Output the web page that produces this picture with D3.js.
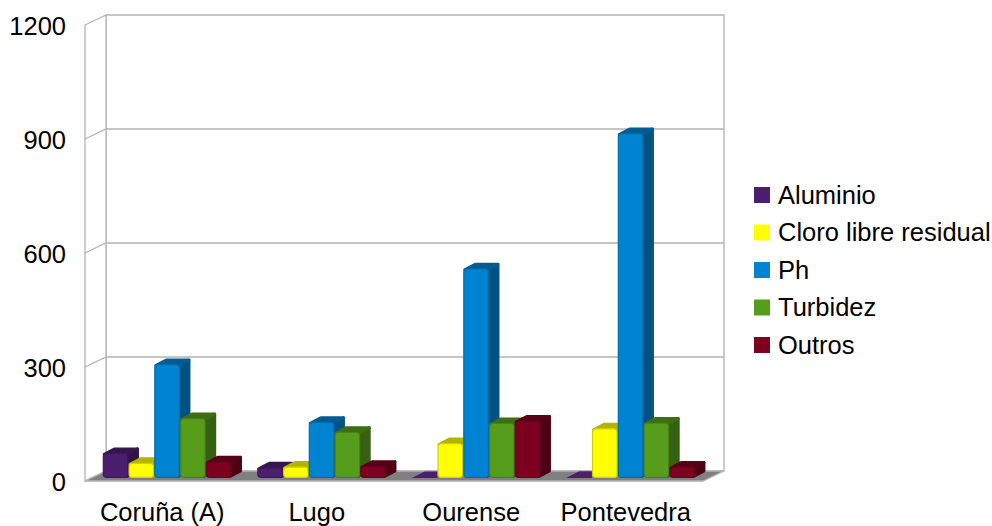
<!DOCTYPE html>
<html>
<head>
<meta charset="utf-8">
<script src="https://cdn.jsdelivr.net/npm/d3@7"></script>
<style>
html,body{margin:0;padding:0;background:#fff}
svg{display:block}
text{font-family:"Liberation Sans",Arial,sans-serif;fill:#000}
</style>
</head>
<body>
<svg id="chart" width="992" height="526"></svg>
<script>
const provinces = ["Coruña (A)", "Lugo", "Ourense", "Pontevedra"];
const seriesNames = ["Aluminio", "Cloro libre residual", "Ph", "Turbidez", "Outros"];
const seriesColors = ["#4b1f6f", "#ffff00", "#0084d1", "#579d1c", "#7e0021"];
const aluminio = [66, 28, 1, 2];
const cloro = [40, 30, 92, 131];
const ph = [300, 148, 552, 908];
const turbidez = [158, 122, 145, 146];
const outros = [44, 32, 151, 30];
const yTicks = [0, 300, 600, 900, 1200];

const allSeries = [aluminio, cloro, ph, turbidez, outros];
const labelFont = '"Liberation Sans",Arial,sans-serif';
const labelSize = "25.5px";

const svg = d3.select("#chart");

// Oblique box: the front floor edge and the offset of the back wall from it.
const frontLeft = 85, frontRight = 703, frontBase = 481;
const depthX = 21, depthY = 10;
const barOffsetX = 4.83, barOffsetY = 3;
const barThickX = 10.5, barThickY = 5.5;
const cornerInset = 1.5;

const x = d3.scaleBand().domain(provinces).range([frontLeft, frontRight]);
const xSeries = d3.scaleBand().domain(d3.range(seriesNames.length))
  .range([0, x.bandwidth()]).paddingOuter(0.5).paddingInner(0);
const y = d3.scaleLinear().domain([0, 1200]).range([frontBase, frontBase - 456]);

const wallColor = "#b3b3b3";
const poly = pts => "M" + pts.map(p => p.join(",")).join("L") + "Z";
const shade = (c, k) => d3.rgb(c.r * k, c.g * k, c.b * k).formatHex();

// Back wall and side wall
svg.append("path")
  .attr("d", poly([[frontLeft + depthX, y(1200) - depthY], [frontRight + depthX, y(1200) - depthY],
                   [frontRight + depthX, y(0) - depthY], [frontLeft + depthX, y(0) - depthY]]))
  .attr("fill", "#fff").attr("stroke", wallColor).attr("stroke-width", 1.3);
svg.append("path")
  .attr("d", poly([[frontLeft, y(1200)], [frontLeft + depthX, y(1200) - depthY],
                   [frontLeft + depthX, y(0) - depthY], [frontLeft, y(0)]]))
  .attr("fill", "#fff").attr("stroke", wallColor).attr("stroke-width", 1.3);

// Gridlines folded over both walls
svg.append("g").selectAll("path").data(yTicks.slice(1, -1)).join("path")
  .attr("d", t => `M${frontLeft},${y(t)}L${frontLeft + depthX},${y(t) - depthY}L${frontRight + depthX},${y(t) - depthY}`)
  .attr("fill", "none").attr("stroke", wallColor).attr("stroke-width", 1.3);

// Floor
svg.append("path")
  .attr("d", poly([[frontLeft, y(0)], [frontLeft + depthX, y(0) - depthY],
                   [frontRight + depthX, y(0) - depthY], [frontRight, y(0)]]))
  .attr("fill", "#808080").attr("stroke", wallColor).attr("stroke-width", 1.3);

// Bars, painted left to right so each front face covers its neighbour's side
const barsLayer = svg.append("g");
provinces.forEach((province, c) => {
  allSeries.forEach((values, s) => {
    const color = d3.color(seriesColors[s]);
    const sideColor = shade(color, 0.62);
    const topColor = shade(color, 0.7);
    const edgeColor = shade(color, 0.82);

    const left = x(province) + xSeries(s) + barOffsetX;
    const w = xSeries.bandwidth();
    const base = y(0) - barOffsetY;
    const top = y(values[c]) - barOffsetY;
    const g = barsLayer.append("g");
    const inset = cornerInset;

    if (top < base - 4) {
      // Solid bar: side and top are inset and stroked with round joins for soft corners
      g.append("path")
        .attr("d", poly([[left + w - inset, top + inset], [left + w + barThickX - inset, top - barThickY + inset],
                         [left + w + barThickX - inset, base - barThickY - inset], [left + w - inset, base - inset]]))
        .attr("fill", sideColor).attr("stroke", sideColor)
        .attr("stroke-width", inset * 2).attr("stroke-linejoin", "round");
      g.append("path")
        .attr("d", poly([[left + inset, top + inset], [left + barThickX + inset, top - barThickY + inset],
                         [left + w + barThickX - inset, top - barThickY + inset], [left + w - inset, top + inset]]))
        .attr("fill", topColor).attr("stroke", topColor)
        .attr("stroke-width", inset * 2).attr("stroke-linejoin", "round");
      g.append("rect")
        .attr("x", left + 0.6).attr("y", top + 0.6)
        .attr("width", w - 1.2).attr("height", base - top - 1.2)
        .attr("rx", 3.5).attr("ry", 3.5)
        .attr("fill", seriesColors[s])
        .attr("stroke", edgeColor).attr("stroke-width", 1.2);
    } else {
      // Near-zero bar: only a sliver of the top face shows on the floor
      g.append("path")
        .attr("d", poly([[left, base], [left + 13, top - barThickY - 0.5],
                         [left + w, top - barThickY - 0.5], [left + w, base]]))
        .attr("fill", seriesColors[s]);
    }
  });
});

// Value axis, labels only
const yAxis = d3.axisLeft(y).tickValues(yTicks).tickFormat(d3.format("d")).tickSize(0).tickPadding(0);
const yG = svg.append("g").attr("transform", "translate(66,1)").call(yAxis);
yG.select(".domain").remove();
yG.selectAll("text").style("font-family", labelFont)
  .style("font-size", labelSize).attr("fill", "#000");

// Category axis, labels only
const xAxis = d3.axisBottom(x).tickSize(0).tickPadding(0);
const xG = svg.append("g").attr("transform", "translate(0,502.5)").call(xAxis);
xG.select(".domain").remove();
xG.selectAll("text").style("font-family", labelFont)
  .style("font-size", labelSize).attr("fill", "#000");

// Legend
const legendY = d3.scalePoint().domain(seriesNames).range([195, 345]);
const legend = svg.append("g").selectAll("g").data(seriesNames).join("g")
  .attr("transform", d => `translate(0,${legendY(d)})`);
legend.append("rect").attr("x", 754).attr("y", -8).attr("width", 16).attr("height", 16)
  .attr("fill", (d, i) => seriesColors[i]);
legend.append("text").attr("x", 778).attr("dy", "0.35em")
  .style("font-size", labelSize).text(d => d);
</script>
</body>
</html>
